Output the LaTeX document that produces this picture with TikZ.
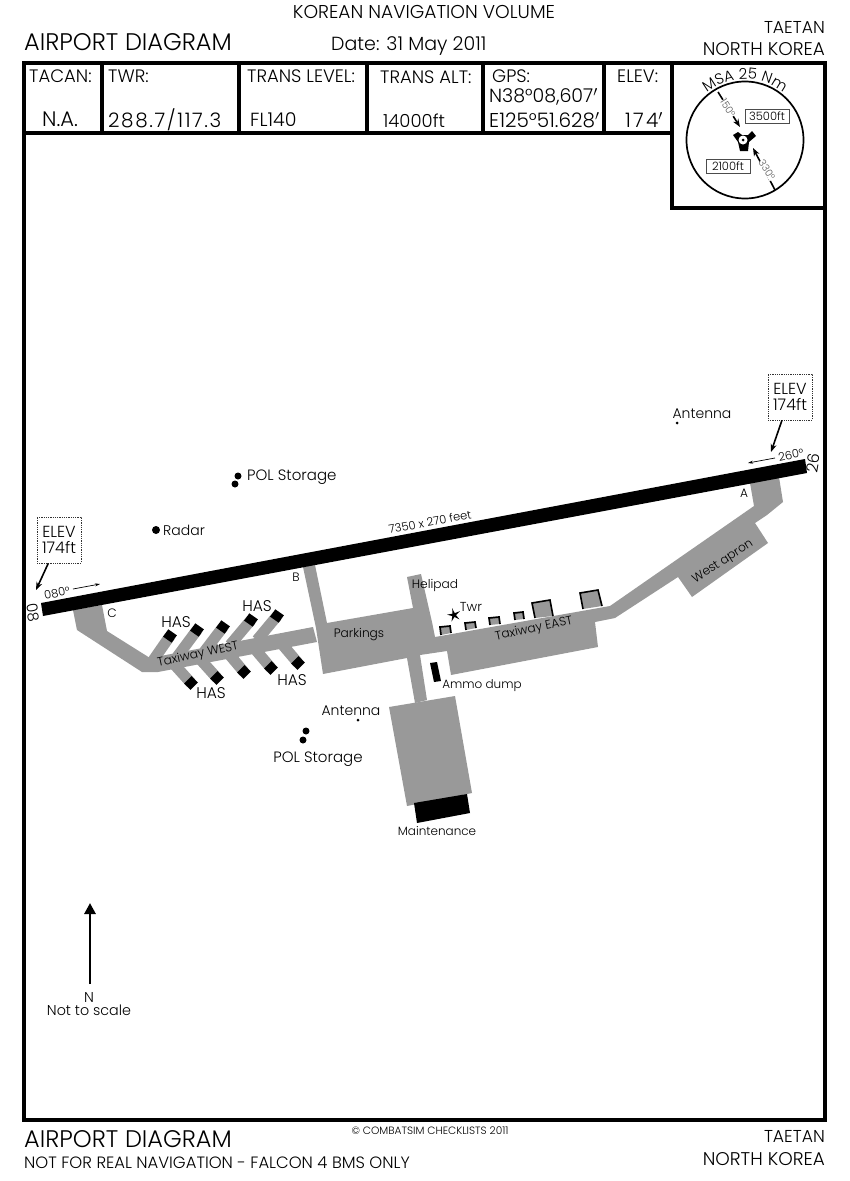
\documentclass[tikz,border=0pt]{standalone}
\usepackage{fontspec}
\setmainfont{Poppins}[UprightFont=* Light]
\usetikzlibrary{shapes.geometric,decorations.text,arrows.meta,backgrounds}
\definecolor{taxi}{RGB}{153,153,153}
\newcommand{\fs}[1]{\fontsize{#1}{#1}\selectfont}
\newcommand{\fw}[2]{\fontsize{#1}{#1}\selectfont\addfontfeature{LetterSpace=#2}}

\begin{document}
\begin{tikzpicture}
		[x=1pt,y=-1pt,
		lab/.style= {inner sep=0pt,text=black,font=\fs{12.2}},
		big/.style= {lab,font=\fs{24}},
		head/.style= {lab,font=\fs{18}},
		med/.style= {lab,font=\fs{15}},
		boxa/.style= {draw=black!70,thin,fill=white,inner sep=1.5pt,font=\fs{11.5},minimum width=44pt,minimum height=14pt},
		elev/.style= {draw=black!80,densely dotted,line width=.8pt,fill=white,align=center,font=\fs{16},minimum width=44pt,minimum height=46pt,inner sep=0pt},
		has/.style= {fill=black,inner sep=0pt,minimum width=9pt,minimum height=10.5pt},
		stub/.style= {taxi,line width=11pt},
		spot/.style= {circle,fill=black,inner sep=0pt},
		shed/.style= {fill=taxi,draw=black,line width=1.7pt},
		bay/.style= {fill=taxi,draw=black,line width=1.6pt},
		thick arrow/.style= {-{Stealth[length=8pt,width=6pt]},line width=1.6pt},
		thin arrow/.style= {-{Stealth[length=5pt,width=3pt]},line width=.7pt}]

		\useasboundingbox (0,0) rectangle (850,1181);

		% taxiways
		\fill[taxi] (73,610) -- (102,605) -- (107,631) -- (150,658) -- (313,627) -- (317,642)
			-- (158,672) -- (142,672) -- (77,630) -- cycle;
		\fill[taxi] (303,567) -- (315,565) -- (327,623) -- (413,608) -- (407,577) -- (421,574)
			-- (432,622) -- (435,637) -- (610,606) -- (754,506) -- (750,483) -- (779,477)
			-- (783,502) -- (767,515) -- (755,523) -- (768,543) -- (692,597) -- (678,577)
			-- (615,618) -- (595,622) -- (598,647) -- (451,675) -- (447,651) -- (420,655)
			-- (427,700) -- (415,703) -- (407,658) -- (323,674) -- (316,628) -- cycle;
		\fill[taxi] (389,707) -- (455,696) -- (472,793) -- (407,806) -- cycle;
		\fill[black] (414,803) -- (467,794) -- (470,813) -- (417,823) -- cycle;
		\fill[black] (430,663) -- (437,662) -- (441,681) -- (434,682) -- cycle;
		\fill[black] (41,603) -- (805,459) -- (807,473) -- (43,616) -- cycle;

		% shelters
		\filldraw[shed] (441,635) -- (440,627) -- (450,626) -- (451,633);
		\filldraw[shed] (466,630) -- (465,623) -- (475,622) -- (476,628);
		\filldraw[shed] (490,625) -- (489,618) -- (499,617) -- (500,624);
		\filldraw[shed] (515,620) -- (514,613) -- (523,612) -- (524,619);
		\filldraw[bay] (535,618) -- (532,603) -- (550,600) -- (553,616);
		\filldraw[bay] (583,609) -- (580,593) -- (598,590) -- (602,606);

		% HAS
		\coordinate (u1) at (152,662);
		\coordinate (u2) at (177,657);
		\coordinate (u3) at (204,652);
		\coordinate (u4) at (230,645);
		\coordinate (u5) at (257,640);
		\coordinate (d1) at (173,663);
		\coordinate (d2) at (199,658);
		\coordinate (d3) at (228,653);
		\coordinate (d4) at (254,648);
		\coordinate (d5) at (281,643);

		\node[has,rotate=55] (h1) at (170,636) {};
		\node[has,rotate=55] (h2) at (197,630) {};
		\node[has,rotate=55] (h3) at (223,627) {};
		\node[has,rotate=55] (h4) at (251,620) {};
		\node[has,rotate=55] (h5) at (277,616) {};
		\node[has,rotate=-45] (h6) at (191,683) {};
		\node[has,rotate=-45] (h7) at (217,678) {};
		\node[has,rotate=-45] (h8) at (244,672) {};
		\node[has,rotate=-45] (h9) at (271,668) {};
		\node[has,rotate=-45] (h10) at (298,663) {};

		\begin{scope}[on background layer]
			\draw[stub] (u1) -- (h1.center);
			\draw[stub] (u2) -- (h2.center);
			\draw[stub] (u3) -- (h3.center);
			\draw[stub] (u4) -- (h4.center);
			\draw[stub] (u5) -- (h5.center);
			\draw[stub] (d1) -- (h6.center);
			\draw[stub] (d2) -- (h7.center);
			\draw[stub] (d3) -- (h8.center);
			\draw[stub] (d4) -- (h9.center);
			\draw[stub] (d5) -- (h10.center);
		\end{scope}

		% frame
		\draw[line width=4pt] (24,62.5) rectangle (825,1120);
		\draw[line width=4pt] (24,133) -- (672,133);
		\draw[line width=4pt] (102,62.5) -- (102,133);
		\draw[line width=4pt] (239,62.5) -- (239,133);
		\draw[line width=4pt] (367,62.5) -- (367,133);
		\draw[line width=4pt] (483,62.5) -- (483,133);
		\draw[line width=4pt] (604,62.5) -- (604,133);
		\draw[line width=4pt] (672,62.5) -- (672,208) -- (825,208);

		% headings
		\node[lab,font=\fs{18.6}] (volume) at (424,12) {KOREAN NAVIGATION VOLUME};
		\node[big,anchor=west] (title) at (24,42) {AIRPORT DIAGRAM};
		\node[lab,font=\fs{19},anchor=west] (date) at (331,46) {Date: 31 May 2011};
		\node[lab,font=\fs{17.2},anchor=east] (place) at (825,27) {TAETAN};
		\node[lab,font=\fs{18.4},anchor=east] (country) at (825,49) {NORTH KOREA};

		\node[head,anchor=west] (tacan) at (29,76) {TACAN:};
		\node[lab,font=\fs{21}] (tacanval) at (60,119) {N.A.};
		\node[head,anchor=west] (twr) at (108,76) {TWR:};
		\node[lab,font=\fw{20}{8},anchor=west] (twrval) at (108,120) {288.7/117.3};
		\node[head,anchor=west] (level) at (247,76) {TRANS LEVEL:};
		\node[lab,font=\fs{19},anchor=west] (levelval) at (250,120) {FL140};
		\node[head,anchor=west] (alt) at (380,77) {TRANS ALT:};
		\node[head,anchor=west] (altval) at (383,121) {14000ft};
		\node[head,anchor=west] (gps) at (492,76) {GPS:};
		\node[lab,font=\fs{19},anchor=west] (gpsn) at (489,97) {N38°08,607$'$};
		\node[lab,font=\fs{20},anchor=west] (gpse) at (489,120) {E125°51.628$'$};
		\node[head,anchor=west] (elevtitle) at (617,76) {ELEV:};
		\node[lab,font=\fw{20}{11},anchor=west] (elevval) at (625,120) {174$'$};

		% MSA
		\draw[line width=1.7pt] (745,140) circle (58.5);
		\path[decorate,decoration={text along path,text align=center,
			text={|\fs{15}|MSA 25 Nm}}] (745,140) ++(-135:61) arc[start angle=-135,end angle=-45,radius=61];
		\coordinate (msatop) at (718,92);
		\coordinate (msabot) at (775,190);
		\fill (733,135) -- (738,132) -- (742,135) -- (748,135) -- (752,131) -- (756,136) -- (749,142)
			-- (748,151) -- (740,151) -- (738,142) -- cycle;
		\node[circle,fill=white,inner sep=0pt,minimum size=9pt] (fix) at (743,140) {};
		\node[spot,minimum size=3pt] (fixdot) at (743,140) {};
		\coordinate (msain) at (740,127);
		\coordinate (msaout) at (753,148);
		\draw[thick arrow] (msatop) -- (msain);
		\draw[thick arrow] (msabot) -- (msaout);
		\node[lab,font=\fs{10},text=black!65,fill=white,rotate=-58] (deg1) at (728,108) {150°};
		\node[lab,font=\fs{10},text=black!65,fill=white,rotate=-58] (deg2) at (767,170) {330°};
		\node[boxa] (sector1) at (767,116) {3500ft};
		\node[boxa] (sector2) at (728,166) {2100ft};

		% runway labels
		\node[elev] (elevl) at (59,540) {ELEV\\174ft};
		\coordinate (rwyl) at (36,590);
		\draw[thick arrow] (elevl) -- (rwyl);
		\node[elev] (elevr) at (790,397) {ELEV\\174ft};
		\coordinate (rwyr) at (771,452);
		\draw[thick arrow] (elevr) -- (rwyr);

		\coordinate (a80s) at (73,589);
		\coordinate (a80e) at (100,584);
		\draw[thin arrow] (a80s) -- (a80e);
		\coordinate (a26s) at (775,458);
		\coordinate (a26e) at (748,463);
		\draw[thin arrow] (a26s) -- (a26e);
		\node[lab,font=\fs{11.5},rotate=12] (hdg1) at (57,593) {080°};
		\node[lab,font=\fs{11.5},rotate=12] (hdg2) at (791,455) {260°};
		\node[med,rotate=-80] (rwy08) at (33,613) {08};
		\node[lab,font=\fs{16},rotate=80] (rwy26) at (813,463) {26};
		\node[lab,font=\fs{11.5},rotate=10.6] (rwysize) at (430,522) {7350 x 270 feet};
		\node[lab] (tA) at (744,493) {A};
		\node[lab] (tB) at (296,577) {B};
		\node[lab] (tC) at (112,613) {C};

		% places
		\node[spot,minimum size=8pt] (radardot) at (156,530) {};
		\node[lab,font=\fs{14},anchor=west] (radar) at (163,530) {Radar};
		\node[spot,minimum size=7pt] (pol1) at (238,476) {};
		\node[spot,minimum size=7pt] (pol2) at (235,484) {};
		\node[med,anchor=west] (pola) at (247,477) {POL Storage};
		\node[spot,minimum size=7pt] (pol3) at (306,731) {};
		\node[spot,minimum size=7pt] (pol4) at (303,740) {};
		\node[med] (polb) at (318,759) {POL Storage};
		\node[spot,minimum size=3pt] (ant1) at (677,423) {};
		\node[lab,font=\fs{14}] (anta) at (702,414) {Antenna};
		\node[spot,minimum size=3pt] (ant2) at (358,720) {};
		\node[lab,font=\fs{14}] (antb) at (351,711) {Antenna};
		\node[lab,font=\fs{15.5}] (has1) at (176,622) {HAS};
		\node[lab,font=\fs{15.5}] (has2) at (257,606) {HAS};
		\node[lab,font=\fs{15.5}] (has3) at (211,693) {HAS};
		\node[lab,font=\fs{15.5}] (has4) at (292,680) {HAS};
		\node[lab,rotate=12] (west) at (198,655) {Taxiway WEST};
		\node[lab] (parkings) at (359,635) {Parkings};
		\node[lab] (helipad) at (435,585) {Helipad};
		\node[star,star points=5,star point ratio=3.5,fill=black,inner sep=0pt,minimum size=14pt,rotate=15] (tower) at (454,615) {};
		\node[lab,font=\fs{13}] (twrlab) at (471,607) {Twr};
		\node[lab,rotate=12] (teast) at (534,629) {Taxiway EAST};
		\node[lab,font=\fs{12}] (ammo) at (482,686) {Ammo dump};
		\node[lab,font=\fs{12}] (maint) at (437,831) {Maintenance};
		\node[lab,rotate=33] (apron) at (723,562) {West apron};

		% north
		\node[lab,font=\fs{14.3}] (nlab) at (89,997) {N};
		\node[lab,font=\fs{14.3}] (scale) at (89,1010) {Not to scale};
		\coordinate (ntail) at (90,984);
		\coordinate (nhead) at (90,903);
		\draw[-{Triangle[length=11pt,width=11pt]},line width=2.8pt] (ntail) -- (nhead);

		% footer
		\node[big,anchor=west] (title2) at (24,1139) {AIRPORT DIAGRAM};
		\node[lab,font=\fs{16.4},anchor=west] (warn) at (24,1163) {NOT FOR REAL NAVIGATION - FALCON 4 BMS ONLY};
		\node[lab,font=\fs{10.6}] (copy) at (430,1131) {© COMBATSIM CHECKLISTS 2011};
		\node[lab,font=\fs{17.2},anchor=east] (place2) at (825,1136) {TAETAN};
		\node[lab,font=\fs{18.4},anchor=east] (country2) at (825,1159) {NORTH KOREA};

	\end{tikzpicture}
\end{document}
